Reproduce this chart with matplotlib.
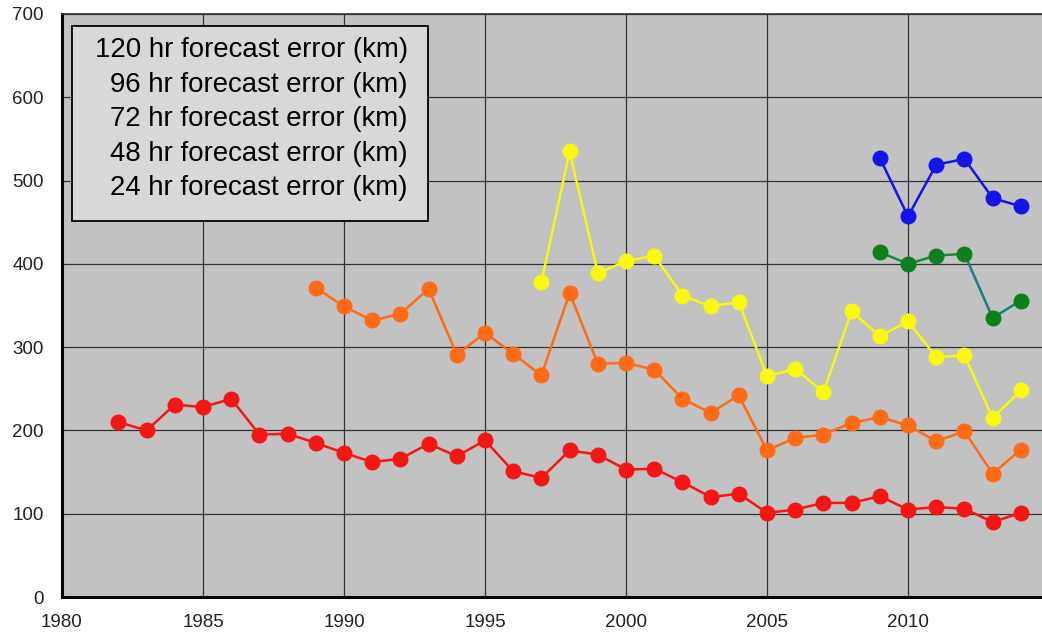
import matplotlib
matplotlib.use("Agg")
import matplotlib.pyplot as plt
from matplotlib import font_manager as fm
from matplotlib.patches import Rectangle

fam = 'DejaVu Sans'
for f in fm.fontManager.ttflist:
    if f.name == 'Liberation Sans' and f.style == 'normal' and f.weight in (400, 'normal') \
            and f.stretch in ('normal', 500):
        fam = f.name
        break
plt.rcParams['font.family'] = [fam, 'DejaVu Sans']

years_24 = list(range(1982, 2015))
err_24 = [210, 200, 231, 228, 238, 195, 196, 185, 173, 162, 166, 184, 169, 188,
          151, 143, 176, 171, 153, 154, 138, 120, 124, 101, 105, 113, 113, 121,
          105, 108, 106, 90, 101]

years_48 = list(range(1989, 2015))
err_48 = [371, 349, 332, 340, 370, 291, 317, 292, 266, 365, 280, 281, 273, 238,
          221, 242, 176, 191, 195, 209, 216, 206, 187, 199, 148, 177]

years_72 = list(range(1997, 2015))
err_72 = [378, 535, 389, 403, 410, 362, 349, 354, 265, 274, 246, 343, 313, 331,
          288, 290, 215, 248]

years_96 = list(range(2009, 2015))
err_96 = [414, 400, 410, 412, 335, 356]

years_120 = list(range(2009, 2015))
err_120 = [527, 457, 519, 526, 479, 469]

legend_labels = ["120 hr forecast error (km)", "96 hr forecast error (km)",
                 "72 hr forecast error (km)", "48 hr forecast error (km)",
                 "24 hr forecast error (km)"]

x_ticks = [1980, 1985, 1990, 1995, 2000, 2005, 2010]
y_ticks = [0, 100, 200, 300, 400, 500, 600, 700]

W, H = 1042, 637
fig = plt.figure(figsize=(W / 100, H / 100), dpi=100)
ax = fig.add_axes([62 / W, 1 - 597 / H, 1 - 62 / W, (597 - 14) / H])
ax.set_facecolor('#c2c2c2')

ms = 10.5
lw = 1.8
ax.plot(years_24, err_24, '-o', color='#f51515', ms=ms, lw=lw, zorder=3)
ax.plot(years_48, err_48, '-o', color='#ff6a14', ms=ms, lw=lw, zorder=3)
ax.plot(years_72, err_72, '-o', color='#f8f810', ms=ms, lw=lw, zorder=3)
ax.plot(years_96[:4], err_96[:4], '-', color='#178a3a', lw=lw, zorder=3)
ax.plot(years_96[3:], err_96[3:], '-', color='#168080', lw=lw, zorder=3)
ax.plot(years_96, err_96, 'o', color='#0f7f1e', ms=ms, zorder=4)
ax.plot(years_120, err_120, '-o', color='#1414e6', ms=ms, lw=lw, zorder=3)

ax.set_xlim(1980, 2014.75)
ax.set_ylim(0, 700)
ax.set_xticks(x_ticks)
ax.set_yticks(y_ticks)
ax.tick_params(length=0, labelsize=13.5, colors='#222222')
ax.tick_params(axis='x', pad=12)
ax.tick_params(axis='y', pad=13)
ax.grid(True, color='#333333', lw=0.9, zorder=1)
ax.set_axisbelow(True)

for s in ['left', 'bottom']:
    ax.spines[s].set_linewidth(2.2)
    ax.spines[s].set_color('black')
ax.spines['top'].set_linewidth(1.2)
ax.spines['top'].set_color('#333333')
ax.spines['right'].set_visible(False)

# legend-style box (text only, right aligned)
fig.patches.append(Rectangle((72 / W, 1 - 221 / H), 356 / W, 195 / H,
                             transform=fig.transFigure, fc='#d8d8d8',
                             ec='black', lw=1.3, zorder=5))
fig.text(408 / W, 1 - 37 / H, "\n".join(legend_labels), ha='right', va='top',
         fontsize=19.9, linespacing=1.43, color='black', zorder=6)

fig.savefig('out.png', dpi=100)
